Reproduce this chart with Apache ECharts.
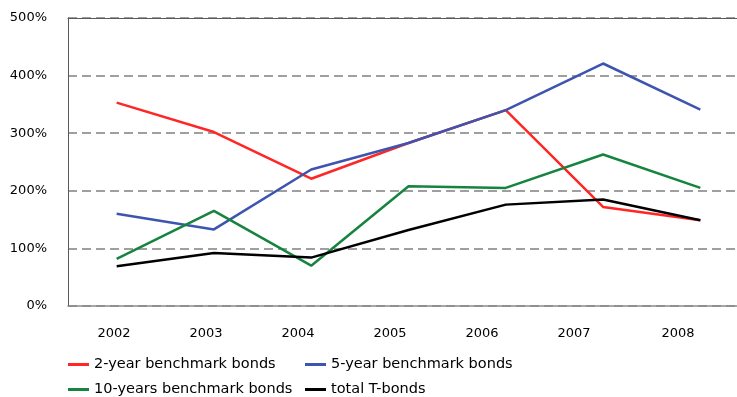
<!DOCTYPE html>
<html>
<head>
	<meta charset="UTF-8" />
	<title>Benchmark bonds</title>
	<style>
		html, body { margin: 0; padding: 0; background: #fff; overflow: hidden; }
		/* the plot area of the original runs past the right edge of the picture */
		#chart { width: 760px; height: 397px; }
	</style>
	<script src="https://cdn.jsdelivr.net/npm/echarts@6/dist/echarts.min.js"></script>
</head>
<body>
	<div id="chart"></div>
	<script>
		var years = ["2002", "2003", "2004", "2005", "2006", "2007", "2008"];
		var yTicks = [0, 100, 200, 300, 400, 500];

		// values in %
		var twoYear = [353, 302, 221, 283, 340, 172, 149];
		var fiveYear = [160, 133, 237, 283, 340, 421, 341];
		var tenYears = [82, 165, 70, 208, 205, 263, 205];
		var totalT = [69, 92, 84, 132, 176, 185, 149];

		var names = ["2-year benchmark bonds", "5-year benchmark bonds", "10-years benchmark bonds", "total T-bonds"];
		var colors = ["#ff2626", "#3d55ae", "#16843f", "#000000"];

		var font = "DejaVu Sans";
		var myChart = echarts.init(document.getElementById("chart"));

		function line(i, data) {
			return {
				name: names[i],
				type: "line",
				data: data,
				xAxisIndex: 0,
				yAxisIndex: 0,
				symbol: "none",
				color: colors[i],
				lineStyle: { width: 2.5, color: colors[i] },
				animation: false
			};
		}

		// one legend per entry, laid out as two rows of two columns
		var legendPos = [[63, 352], [300, 352], [63, 377], [300, 377]];
		var legends = names.map(function (n, i) {
			return {
				left: legendPos[i][0], top: legendPos[i][1],
				itemWidth: 21, itemHeight: 3, icon: "rect",
				data: [n],
				textStyle: { fontFamily: font, fontSize: 14.5, color: "#000" }
			};
		});

		var option = {
			animation: false,
			grid: [
				// data grid
				{ left: 68, width: 681, top: 18, bottom: 91, outerBoundsMode: "none" },
				// label grid, only used for the year labels
				{ left: 68, width: 644, top: 18, bottom: 91, outerBoundsMode: "none" }
			],
			xAxis: [
				{
					type: "category", gridIndex: 0, data: years, boundaryGap: true,
					axisLine: { show: true, onZero: false, lineStyle: { color: "#8a8a8a", width: 1.5 } },
					axisTick: { show: false },
					axisLabel: { show: false },
					splitLine: { show: false }
				},
				{
					type: "category", gridIndex: 1, data: years, boundaryGap: true,
					axisLine: { show: false },
					axisTick: { show: false },
					splitLine: { show: false },
					axisLabel: {
						interval: 0, margin: 21, color: "#000", fontFamily: font, fontSize: 13,
						formatter: function (v, i) {
							return i === years.length - 1 ? "{last|" + v + "}" : v;
						},
						rich: { last: { padding: [0, 0, 0, 24], color: "#000", fontFamily: font, fontSize: 13 } }
					}
				},
				{
					// solid frame line along the top of the plot
					type: "category", gridIndex: 0, data: years, position: "top",
					axisLine: { show: true, onZero: false, lineStyle: { color: "#595959", width: 1 } },
					axisTick: { show: false },
					axisLabel: { show: false },
					splitLine: { show: false }
				}
			],
			yAxis: [
				{
					type: "value", gridIndex: 0, min: yTicks[0], max: yTicks[yTicks.length - 1], interval: 100,
					axisLine: { show: true, lineStyle: { color: "#595959", width: 1 } },
					axisTick: { show: false },
					axisLabel: { margin: 21, color: "#000", fontFamily: font, fontSize: 13, formatter: "{value}%" },
					splitLine: { show: true, lineStyle: { color: "#808080", type: [9, 5], width: 1.5 } }
				},
				{
					type: "value", gridIndex: 1, min: 0, max: 500, show: false,
					splitLine: { show: false }
				}
			],
			legend: legends,
			series: [
				line(0, twoYear),
				line(1, fiveYear),
				line(2, tenYears),
				line(3, totalT)
			]
		};

		myChart.setOption(option);
	</script>
</body>
</html>
